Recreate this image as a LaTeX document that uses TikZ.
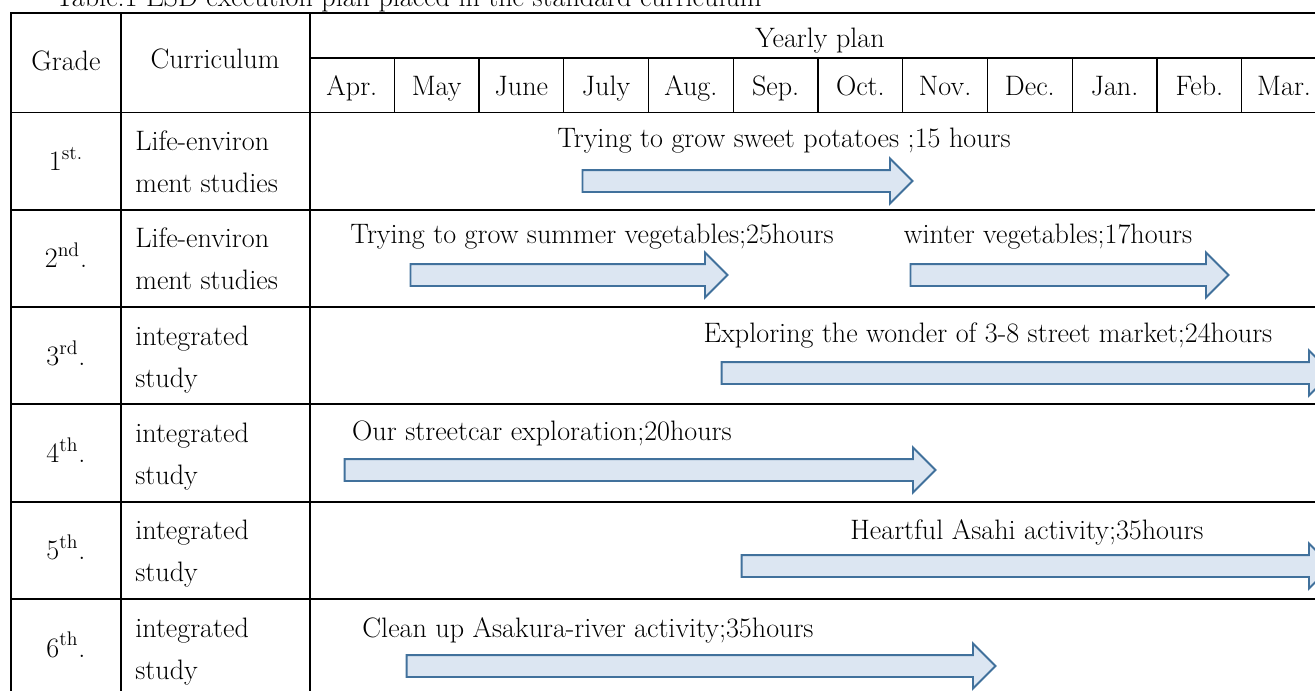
\documentclass[tikz,border=0pt]{standalone}
\usepackage{tikz}
\usetikzlibrary{shapes.arrows}

\definecolor{arrowfill}{RGB}{220,230,242}
\definecolor{arrowline}{RGB}{65,113,156}

\begin{document}
\begin{tikzpicture}[x=0.02cm, y=-0.02cm, font=\fontsize{16}{19}\selectfont]
\tikzstyle{rule} = [line width=1.1pt]
\tikzstyle{thinrule} = [line width=0.8pt]
\tikzstyle{txt} = [inner sep=0pt, anchor=base]
\tikzstyle{plan} = [shape=single arrow, draw=arrowline, fill=arrowfill, line width=1.1pt, inner xsep=0pt, inner ysep=0.2cm, single arrow head extend=0.23cm]

\useasboundingbox (0,0) rectangle (1315,690);

% caption (top of it is cut by the page)
\node[txt, anchor=base west] (caption) at (55,6.5) {Table.1 ESD execution plan placed in the standard curriculum};

% table rules
\draw[rule] (1330,13) -- (11,13) -- (11,700);
\draw[rule] (121,13) -- (121,700);
\draw[rule] (310,13) -- (310,700);
\draw[rule] (310,58) -- (1330,58);
\foreach \y in {112.5,209.8,307.1,404.4,501.7,599}
  \draw[rule] (11,\y) -- (1330,\y);
\foreach \k in {1,...,11}
  \draw[thinrule] ({309.5+84.75*\k},58) -- ({309.5+84.75*\k},112.5);

% header
\node[txt] (grade) at (66,70) {Grade};
\node[txt] (curriculum) at (215,68) {Curriculum};
\node[txt] (yearly) at (820,47) {Yearly plan};
\foreach \m [count=\k] in {Apr.,May,June,July,Aug.,Sep.,Oct.,Nov.,Dec.,Jan.,Feb.,Mar.}
  \node[txt] (m\k) at ({309.5+84.75*\k-42.4},95) {\m};

% grades and curricula
\foreach \i/\g/\ca/\cb in {1/{1\textsuperscript{st.}}/Life-environ/ment studies,
                           2/{2\textsuperscript{nd}.}/Life-environ/ment studies,
                           3/{3\textsuperscript{rd}.}/integrated/study,
                           4/{4\textsuperscript{th}.}/integrated/study,
                           5/{5\textsuperscript{th}.}/integrated/study,
                           6/{6\textsuperscript{th}.}/integrated/study}
{
  \pgfmathsetmacro\rowtop{112.5+97.3*(\i-1)}
  \node[txt] (g\i) at (66,\rowtop+58) {\g};
  \node[txt, anchor=base west] (cu\i) at (135,\rowtop+38) {\ca};
  \node[txt, anchor=base west] (cl\i) at (135,\rowtop+80) {\cb};
}

% activities
\node[txt] (t1) at (784,147) {Trying to grow sweet potatoes ;15 hours};
\node[txt] (t2) at (592,243) {Trying to grow summer vegetables;25hours};
\node[txt] (t3) at (1048,243) {winter vegetables;17hours};
\node[txt] (t4) at (988,342) {Exploring the wonder of 3-8 street market;24hours};
\node[txt] (t5) at (542,440) {Our streetcar exploration;20hours};
\node[txt] (t6) at (1027,539) {Heartful Asahi activity;35hours};
\node[txt] (t7) at (588,637) {Clean up Asakura-river activity;35hours};

\node[plan, minimum height=6.6cm] (a1) at (742,181) {};
\node[plan, minimum height=6.34cm] (a2) at (563.5,275) {};
\node[plan, minimum height=6.36cm] (a3) at (1064,275) {};
\node[plan, minimum height=12.2cm] (a4) at (1021,373) {};
\node[plan, minimum height=11.82cm] (a5) at (634.5,470) {};
\node[plan, minimum height=11.8cm] (a6) at (1031,566) {};
\node[plan, minimum height=11.78cm] (a7) at (695.5,666) {};
\end{tikzpicture}
\end{document}
